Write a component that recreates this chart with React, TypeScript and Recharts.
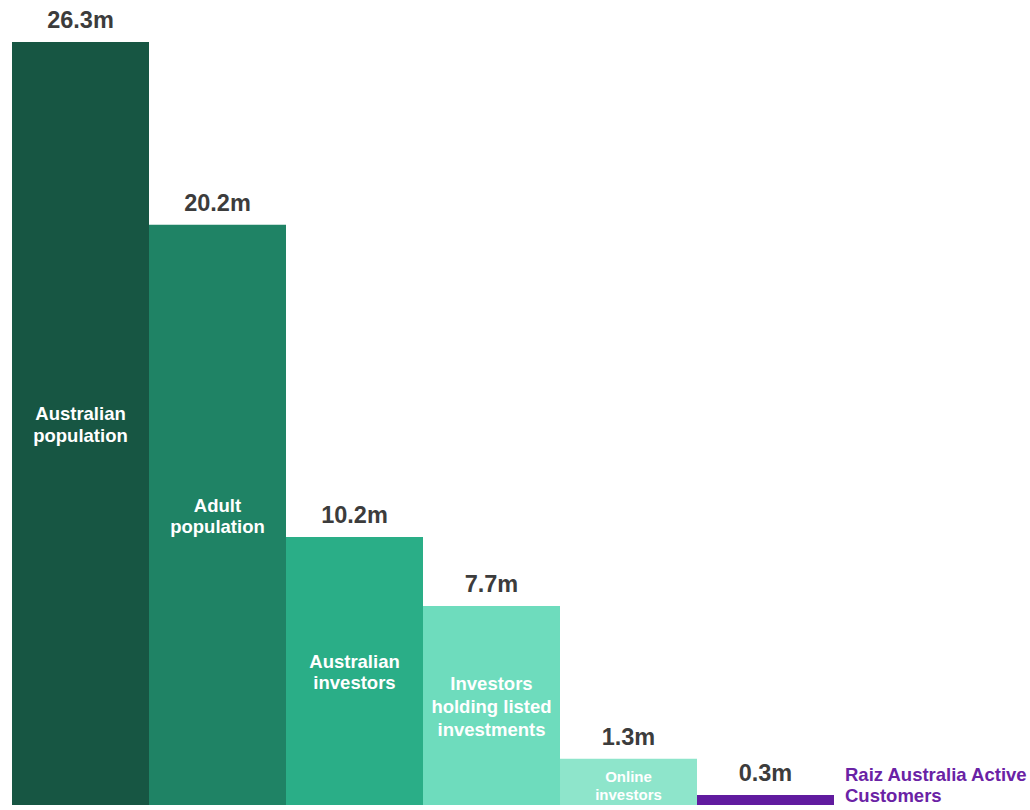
import { BarChart, Bar, XAxis, YAxis, Cell, LabelList } from "recharts";

// printed figures (millions)
const categories = [
  "Australian population",
  "Adult population",
  "Australian investors",
  "Investors holding listed investments",
  "Online investors",
  "Raiz Australia Active Customers",
];
const valueLabels = ["26.3m", "20.2m", "10.2m", "7.7m", "1.3m", "0.3m"];
// bar heights as drawn in the picture (stylised, not to scale with the labels)
const barHeights = [26.3, 20.0, 9.24, 6.86, 1.59, 0.345];
const innerLines = [
  ["Australian", "population"],
  ["Adult", "population"],
  ["Australian", "investors"],
  ["Investors", "holding listed", "investments"],
  ["Online", "investors"],
  [],
];
const outsideLines = [[], [], [], [], [], ["Raiz Australia Active", "Customers"]];

const colors = ["#175643", "#1f8365", "#2aae87", "#6edcbd", "#8ee5cb", "#611b9f"];
const FONT = "'Liberation Sans', Arial, sans-serif";

const data = categories.map((name, i) => ({
  name,
  height: barHeights[i],
  value: valueLabels[i],
  idx: i,
}));

function ValueLabel(props: any) {
  const { x, y, width, value } = props;
  return (
    <text
      x={x + width / 2}
      y={y - 14}
      textAnchor="middle"
      fontFamily={FONT}
      fontWeight="bold"
      fontSize={23.5}
      fill="#3c3c3c"
    >
      {value}
    </text>
  );
}

function InnerLabel(props: any) {
  const { x, y, width, height, value } = props;
  const lines = innerLines[value] || [];
  if (!lines.length) return null;
  const small = height < 60;
  const fs = small ? 15 : 18.5;
  const lh = small ? 18 : lines.length > 2 ? 23 : 21.5;
  const cy = y + height / 2;
  const first = cy - ((lines.length - 1) * lh) / 2 + fs * 0.36 + (small ? 4 : 1);
  return (
    <text
      textAnchor="middle"
      fontFamily={FONT}
      fontWeight="bold"
      fontSize={fs}
      fill="#ffffff"
    >
      {lines.map((l, k) => (
        <tspan key={k} x={x + width / 2} y={first + k * lh}>
          {l}
        </tspan>
      ))}
    </text>
  );
}

function OutsideLabel(props: any) {
  const { x, y, width, value } = props;
  const lines = outsideLines[value] || [];
  if (!lines.length) return null;
  return (
    <text fontFamily={FONT} fontWeight="bold" fontSize={18.5} fill="#6a22a5">
      {lines.map((l, k) => (
        <tspan key={k} x={x + width + 11} y={y - 14 + k * 21}>
          {l}
        </tspan>
      ))}
    </text>
  );
}

export default function App() {
  return (
    <div
      style={{
        position: "absolute",
        top: 0,
        left: 0,
        width: 1030,
        height: 810,
        overflow: "hidden",
        background: "#ffffff",
      }}
    >
      <BarChart
        width={1030}
        height={810}
        data={data}
        margin={{ top: 42, right: 196, bottom: 5, left: 12 }}
        barCategoryGap={0}
        barGap={0}
      >
        <XAxis dataKey="name" hide />
        <YAxis hide domain={[0, 26.3]} allowDataOverflow />
        <Bar dataKey="height" isAnimationActive={false}>
          {data.map((d, i) => (
            <Cell key={d.name} fill={colors[i]} />
          ))}
          <LabelList dataKey="value" content={ValueLabel} />
          <LabelList dataKey="idx" content={InnerLabel} />
          <LabelList dataKey="idx" content={OutsideLabel} />
        </Bar>
      </BarChart>
    </div>
  );
}
